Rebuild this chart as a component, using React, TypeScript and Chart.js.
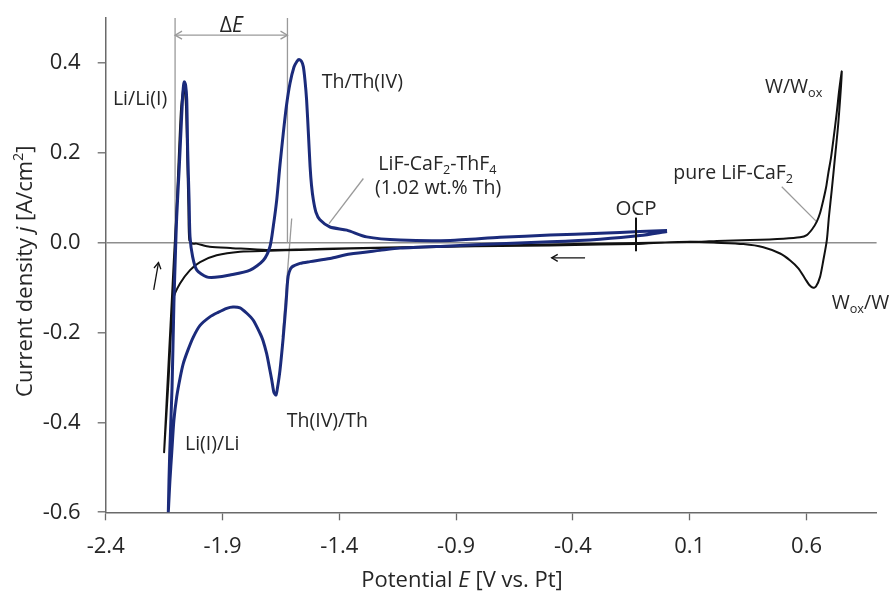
import React, { useEffect, useRef } from "react";
import { Chart, registerables } from "chart.js";

Chart.register(...registerables);

// ---- axis ticks ----
const xTickValues = [-2.4, -1.9, -1.4, -0.9, -0.4, 0.1, 0.6];
const yTickValues = [-0.6, -0.4, -0.2, 0.0, 0.2, 0.4];

// ---- LiF-CaF2-ThF4 (1.02 wt.% Th) : potential E [V] ----
const thoriumE = [
  0.003, -0.113, -0.284, -0.498, -0.712, -0.926, -1.14, -1.226, -1.354, -1.44,
  -1.525, -1.568, -1.603, -1.615, -1.621, -1.628, -1.64, -1.654, -1.665, -1.671,
  -1.68, -1.689, -1.701, -1.711, -1.727, -1.739, -1.769, -1.796, -1.825, -1.855,
  -1.882, -1.919, -1.954, -1.996, -2.025, -2.048, -2.068, -2.082, -2.096, -2.108,
  -2.1175, -2.125, -2.132,
  -2.126, -2.116, -2.108, -2.101, -2.096, -2.085, -2.075, -2.068, -2.0635, -2.058,
  -2.053, -2.049, -2.043, -2.039, -2.028, -2.01, -1.968, -1.932, -1.868, -1.782,
  -1.725, -1.697, -1.682, -1.668, -1.654, -1.64, -1.626, -1.611, -1.594, -1.581,
  -1.5725, -1.562, -1.554, -1.547, -1.54, -1.532, -1.525, -1.519, -1.511, -1.5,
  -1.483, -1.44, -1.368, -1.283, -1.14, -0.926, -0.712, -0.498, -0.284, -0.113,
  0.003,
];
// current density j [A/cm2]
const thoriumJ = [
  0.025, 0.016, 0.008, 0.002, -0.002, -0.007, -0.012, -0.017, -0.025, -0.035,
  -0.042, -0.046, -0.054, -0.066, -0.083, -0.135, -0.21, -0.284, -0.324, -0.339,
  -0.333, -0.306, -0.273, -0.247, -0.217, -0.202, -0.172, -0.157, -0.145, -0.143,
  -0.146, -0.155, -0.165, -0.184, -0.21, -0.239, -0.269, -0.302, -0.343, -0.395,
  -0.469, -0.529, -0.6,
  -0.469, -0.322, -0.135, -0.016, 0.058, 0.169, 0.28, 0.344, 0.358, 0.351,
  0.318, 0.206, 0.095, 0.013, -0.031, -0.061, -0.076, -0.077, -0.072, -0.061,
  -0.039, -0.009, 0.039, 0.095, 0.173, 0.243, 0.306, 0.355, 0.391, 0.404,
  0.408, 0.404, 0.392, 0.362, 0.318, 0.24, 0.169, 0.128, 0.095, 0.068,
  0.051, 0.035, 0.028, 0.013, 0.006, 0.005, 0.012, 0.017, 0.021, 0.025,
  0.027,
];

// ---- pure LiF-CaF2 ----
const pureE = [
  -0.13, -0.284, -0.498, -0.712, -0.926, -1.14, -1.354, -1.568, -1.697, -1.825,
  -1.925, -1.996, -2.039, -2.082, -2.11, -2.131, -2.15,
  -2.128, -2.117, -2.106, -2.099, -2.089, -2.078, -2.069, -2.065, -2.06, -2.056,
  -2.051, -2.046, -2.042, -2.028, -2.012, -1.955, -1.857, -1.711, -1.568, -1.354,
  -1.14, -0.926, -0.712, -0.498, -0.284, -0.07, 0.144, 0.216, 0.358, 0.501,
  0.572, 0.601, 0.624, 0.644, 0.658, 0.672, 0.684, 0.693, 0.705, 0.715,
  0.729, 0.74, 0.751,
  0.736, 0.722, 0.708, 0.696, 0.687, 0.672, 0.658, 0.641, 0.629, 0.612,
  0.594, 0.565, 0.529, 0.487, 0.415, 0.33, 0.216, 0.101, -0.027, -0.13,
];
const pureJ = [
  -0.003, -0.004, -0.006, -0.007, -0.009, -0.011, -0.013, -0.016, -0.018, -0.02,
  -0.028, -0.043, -0.061, -0.091, -0.125, -0.306, -0.466,
  -0.239, -0.128, -0.016, 0.05, 0.169, 0.295, 0.34, 0.345, 0.33, 0.3,
  0.19, 0.08, 0.005, -0.002, -0.002, -0.009, -0.012, -0.016, -0.015, -0.012,
  -0.01, -0.008, -0.006, -0.004, -0.002, 0.0, 0.002, 0.004, 0.006, 0.009,
  0.012, 0.017, 0.03, 0.047, 0.066, 0.095, 0.124, 0.154, 0.19, 0.229,
  0.288, 0.34, 0.381,
  0.266, 0.191, 0.117, 0.058, 0.006, -0.039, -0.076, -0.097, -0.1, -0.094,
  -0.08, -0.057, -0.039, -0.024, -0.01, -0.003, 0.0, 0.002, 0.0, -0.003,
];

// ---- guide lines (data units) ----
const deltaELines = [-2.103, -1.622];
const tangentE = [-1.6038, -1.644];
const tangentJ = [0.054, -0.21];
const leaderThE = [-1.297, -1.444];
const leaderThJ = [0.143, 0.0425];
const leaderPureE = [0.494, 0.644];
const leaderPureJ = [0.1245, 0.0465];

const FONT = "'Open Sans', 'Noto Sans', sans-serif";
const BLUE = "#1b2b7b";
const BLACK = "#111111";
const GUIDE = "#9a9a9a";
const AXIS = "#6a6a6a";
const TEXT = "#262626";

type Part = [string, "n" | "i" | "sub" | "sup"];

const textLabels: { parts: Part[]; x: number; y: number; size: number; align: "left" | "center" }[] = [
  { parts: [["Li/Li(I)", "n"]], x: -2.369, y: 0.322, size: 19.5, align: "left" },
  { parts: [["Th/Th(IV)", "n"]], x: -1.475, y: 0.359, size: 19.5, align: "left" },
  { parts: [["LiF-CaF", "n"], ["2", "sub"], ["-ThF", "n"], ["4", "sub"]], x: -1.233, y: 0.177, size: 19.5, align: "left" },
  { parts: [["(1.02 wt.% Th)", "n"]], x: -1.247, y: 0.123, size: 19.5, align: "left" },
  { parts: [["pure LiF-CaF", "n"], ["2", "sub"]], x: 0.03, y: 0.157, size: 19.5, align: "left" },
  { parts: [["W/W", "n"], ["ox", "sub"]], x: 0.422, y: 0.349, size: 19.5, align: "left" },
  { parts: [["W", "n"], ["ox", "sub"], ["/W", "n"]], x: 0.708, y: -0.132, size: 19.5, align: "left" },
  { parts: [["Th(IV)/Th", "n"]], x: -1.625, y: -0.394, size: 19.5, align: "left" },
  { parts: [["Li(I)/Li", "n"]], x: -2.0605, y: -0.445, size: 19.5, align: "left" },
  { parts: [["OCP", "n"]], x: -0.13, y: 0.079, size: 20.5, align: "center" },
  { parts: [["\u0394", "n"], ["E", "i"]], x: -1.8625, y: 0.485, size: 21, align: "center" },
];

const fontFor = (kind: string, size: number) => {
  const s = kind === "sub" || kind === "sup" ? size * 0.65 : size;
  return `${kind === "i" ? "italic " : ""}${s}px ${FONT}`;
};

function drawRich(ctx: CanvasRenderingContext2D, parts: Part[], x: number, capY: number, size: number, align: string) {
  const base = capY + 0.357 * size;
  let total = 0;
  for (const [t, k] of parts) {
    ctx.font = fontFor(k, size);
    total += ctx.measureText(t).width;
  }
  let cx = align === "center" ? x - total / 2 : x;
  ctx.textAlign = "left";
  ctx.textBaseline = "alphabetic";
  for (const [t, k] of parts) {
    ctx.font = fontFor(k, size);
    const dy = k === "sub" ? 0.22 * size : k === "sup" ? -0.42 * size : 0;
    ctx.fillText(t, cx, base + dy);
    cx += ctx.measureText(t).width;
  }
}

function arrowHead(ctx: CanvasRenderingContext2D, fx: number, fy: number, tx: number, ty: number, len: number) {
  const a = Math.atan2(ty - fy, tx - fx);
  const sp = Math.PI / 6;
  ctx.beginPath();
  ctx.moveTo(tx - len * Math.cos(a - sp), ty - len * Math.sin(a - sp));
  ctx.lineTo(tx, ty);
  ctx.lineTo(tx - len * Math.cos(a + sp), ty - len * Math.sin(a + sp));
  ctx.stroke();
}

const annotationPlugin = {
  id: "annotations",
  afterDatasetsDraw(chart: any) {
    const ctx: CanvasRenderingContext2D = chart.ctx;
    const xs = chart.scales.x;
    const ys = chart.scales.y;
    const X = (v: number) => xs.getPixelForValue(v);
    const Y = (v: number) => ys.getPixelForValue(v);
    ctx.save();

    // Delta E double arrow
    ctx.strokeStyle = GUIDE;
    ctx.lineWidth = 1.3;
    const ay = Y(0.462);
    const ax1 = X(deltaELines[0]);
    const ax2 = X(deltaELines[1]);
    ctx.beginPath();
    ctx.moveTo(ax1, ay);
    ctx.lineTo(ax2, ay);
    ctx.stroke();
    arrowHead(ctx, ax2, ay, ax1, ay, 8);
    arrowHead(ctx, ax1, ay, ax2, ay, 8);

    // scan direction arrows
    ctx.strokeStyle = BLACK;
    ctx.lineWidth = 1.3;
    const up = [X(-2.1945), Y(-0.105), X(-2.174), Y(-0.0443)];
    ctx.beginPath();
    ctx.moveTo(up[0], up[1]);
    ctx.lineTo(up[2], up[3]);
    ctx.stroke();
    arrowHead(ctx, up[0], up[1], up[2], up[3], 7);
    const lf = [X(-0.348), Y(-0.0336), X(-0.491), Y(-0.0336)];
    ctx.beginPath();
    ctx.moveTo(lf[0], lf[1]);
    ctx.lineTo(lf[2], lf[3]);
    ctx.stroke();
    arrowHead(ctx, lf[0], lf[1], lf[2], lf[3], 7);

    // OCP marker
    ctx.lineWidth = 2;
    ctx.beginPath();
    ctx.moveTo(X(-0.13), Y(0.056));
    ctx.lineTo(X(-0.13), Y(-0.019));
    ctx.stroke();

    // labels
    ctx.fillStyle = TEXT;
    for (const l of textLabels) {
      drawRich(ctx, l.parts, X(l.x), Y(l.y), l.size, l.align);
    }

    // axis titles
    const area = chart.chartArea;
    drawRich(ctx, [["Potential ", "n"], ["E", "i"], [" [V vs. Pt]", "n"]], 462, 579, 22, "center");
    ctx.translate(24.5, (area.top + area.bottom) / 2 + 6);
    ctx.rotate(-Math.PI / 2);
    drawRich(ctx, [["Current density ", "n"], ["j", "i"], [" [A/cm", "n"], ["2", "sup"], ["]", "n"]], 0, 0, 22, "center");
    ctx.restore();
  },
};

const pairs = (xs: number[], ys: number[]) => xs.map((x, i) => ({ x, y: ys[i] }));

export default function App() {
  const ref = useRef<HTMLCanvasElement | null>(null);

  useEffect(() => {
    if (!ref.current) return;
    const guide = (data: { x: number; y: number }[]) => ({
      data,
      borderColor: GUIDE,
      borderWidth: 1.3,
      pointRadius: 0,
      fill: false,
      tension: 0,
    });
    const chart = new Chart(ref.current, {
      type: "line",
      data: {
        datasets: [
          {
            data: pairs(thoriumE, thoriumJ),
            borderColor: BLUE,
            borderWidth: 3,
            pointRadius: 0,
            fill: false,
            tension: 0.25,
            borderJoinStyle: "round",
          },
          {
            data: pairs(pureE, pureJ),
            borderColor: BLACK,
            borderWidth: 2,
            pointRadius: 0,
            fill: false,
            tension: 0.25,
            borderJoinStyle: "round",
          },
          guide(pairs([deltaELines[0], deltaELines[0]], [0.5, 0])),
          guide(pairs([deltaELines[1], deltaELines[1]], [0.5, 0])),
          guide(pairs(tangentE, tangentJ)),
          guide(pairs(leaderThE, leaderThJ)),
          guide(pairs(leaderPureE, leaderPureJ)),
        ] as any,
      },
      options: {
        animation: false,
        responsive: false,
        devicePixelRatio: 1,
        layout: { padding: { left: 0, right: 15.4, top: 18.1, bottom: 0 } },
        plugins: { legend: { display: false }, tooltip: { enabled: false } },
        scales: {
          x: {
            type: "linear",
            min: -2.4,
            max: 0.9,
            afterBuildTicks: (s: any) => {
              s.ticks = xTickValues.map((v) => ({ value: v }));
            },
            afterFit: (s: any) => {
              s.height = 83.7;
              s.paddingLeft = 0;
              s.paddingRight = 0;
            },
            ticks: {
              autoSkip: false,
              maxRotation: 0,
              padding: 13,
              color: TEXT,
              font: { family: FONT, size: 22 },
              callback: (v: any) => Number(v).toFixed(1),
            },
            grid: { drawOnChartArea: false, drawTicks: true, tickLength: 8, tickColor: AXIS, tickWidth: 1.3 },
            border: { display: true, color: AXIS, width: 1.5 },
          },
          y: {
            type: "linear",
            min: -0.6,
            max: 0.5,
            afterBuildTicks: (s: any) => {
              s.ticks = yTickValues.map((v) => ({ value: v }));
            },
            afterFit: (s: any) => {
              s.width = 105.7;
              s.paddingTop = 0;
              s.paddingBottom = 0;
            },
            ticks: {
              autoSkip: false,
              padding: 17,
              color: TEXT,
              font: { family: FONT, size: 22 },
              callback: (v: any) => Number(v).toFixed(1),
            },
            grid: {
              drawOnChartArea: true,
              drawTicks: true,
              tickLength: 8,
              tickColor: AXIS,
              tickWidth: 1.3,
              color: (c: any) => (c.tick && Math.abs(c.tick.value) < 1e-9 ? "#8e8e8e" : "rgba(0,0,0,0)"),
              lineWidth: 1.6,
            },
            border: { display: true, color: AXIS, width: 1.5 },
          },
        },
      } as any,
      plugins: [annotationPlugin],
    });
    return () => chart.destroy();
  }, []);

  return (
    <div style={{ position: "fixed", left: 0, top: 0, width: 892, height: 596, background: "#fff" }}>
      <canvas ref={ref} width={892} height={596} style={{ display: "block", width: 892, height: 596 }} />
    </div>
  );
}
